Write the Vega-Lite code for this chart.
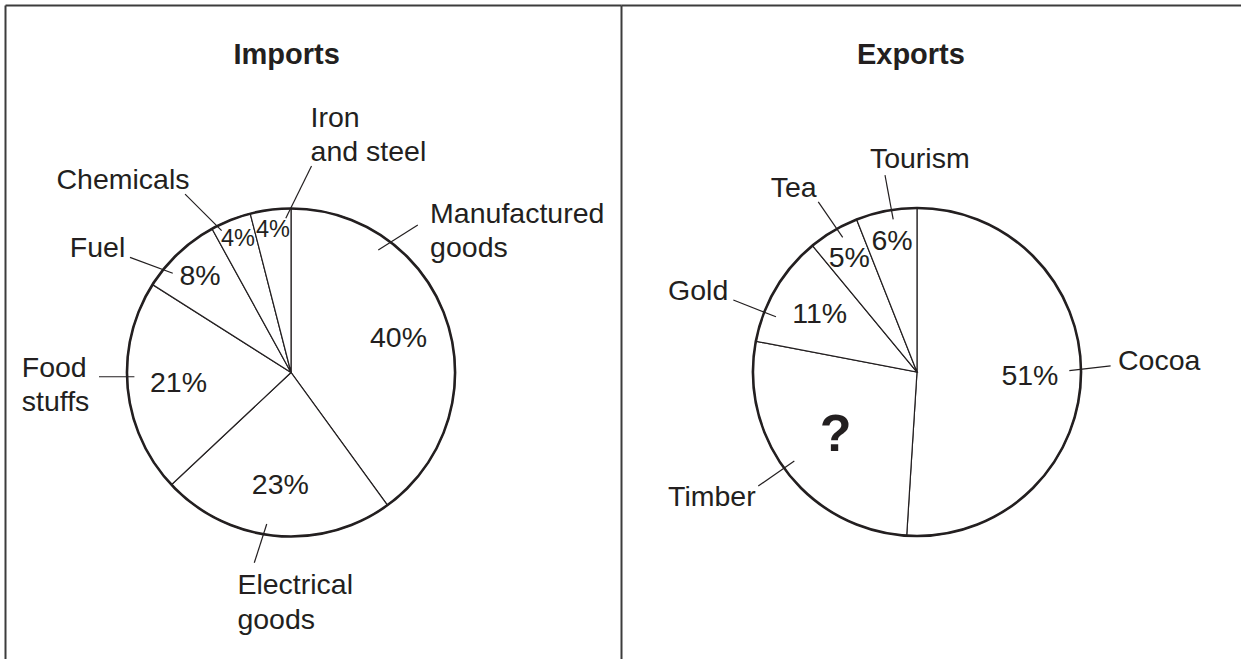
{
  "$schema": "https://vega.github.io/schema/vega-lite/v6.json",
  "padding": {"left": 5, "top": 5, "right": 0, "bottom": 0},
  "spacing": 0,
  "bounds": "flush",
  "background": "white",
  "config": {
    "view": {"stroke": null},
    "axis": {"domain": true, "domainColor": "#3c3c3c", "domainWidth": 2, "ticks": false, "labels": false, "grid": false},
    "text": {"font": "Liberation Sans", "color": "#231f20"}
  },
  "datasets": {
    "imports": [
      {"category": "Manufactured goods", "share": 0.40, "rank": 1},
      {"category": "Electrical goods", "share": 0.23, "rank": 2},
      {"category": "Food stuffs", "share": 0.21, "rank": 3},
      {"category": "Fuel", "share": 0.08, "rank": 4},
      {"category": "Chemicals", "share": 0.04, "rank": 5},
      {"category": "Iron and steel", "share": 0.04, "rank": 6}
    ],
    "exports": [
      {"category": "Cocoa", "share": 0.51, "rank": 1},
      {"category": "Timber", "share": 0.27, "rank": 2},
      {"category": "Gold", "share": 0.11, "rank": 3},
      {"category": "Tea", "share": 0.05, "rank": 4},
      {"category": "Tourism", "share": 0.06, "rank": 5}
    ],
    "importNotes": [
      {"category": "Manufactured goods", "lines": ["Manufactured", "goods"], "lx": 84.8, "ly": 91.3, "x1": 53.2, "y1": 74.7, "x2": 77.3, "y2": 89.9},
      {"category": "Electrical goods", "lines": ["Electrical", "goods"], "lx": -32.7, "ly": -135.1, "x1": -14.8, "y1": -92.4, "x2": -22.4, "y2": -116.0},
      {"category": "Food stuffs", "lines": ["Food", "stuffs"], "lx": -164.2, "ly": -2.6, "x1": -117.1, "y1": -2.6, "x2": -95.5, "y2": -2.6},
      {"category": "Fuel", "lines": ["Fuel"], "lx": -134.9, "ly": 70.6, "x1": -98.2, "y1": 70.2, "x2": -72.1, "y2": 60.5},
      {"category": "Chemicals", "lines": ["Chemicals"], "lx": -143.0, "ly": 111.9, "x1": -64.6, "y1": 108.8, "x2": -42.3, "y2": 86.5},
      {"category": "Iron and steel", "lines": ["Iron", "and steel"], "lx": 11.9, "ly": 149.9, "x1": 12.5, "y1": 125.9, "x2": -3.2, "y2": 94.0}
    ],
    "exportNotes": [
      {"category": "Cocoa", "lines": ["Cocoa"], "lx": 122.6, "ly": 1.0, "x1": 92.9, "y1": 0.8, "x2": 118.1, "y2": 3.7},
      {"category": "Timber", "lines": ["Timber"], "lx": -151.8, "ly": -81.7, "x1": -96.8, "y1": -69.5, "x2": -74.8, "y2": -54.3},
      {"category": "Gold", "lines": ["Gold"], "lx": -151.8, "ly": 43.9, "x1": -112.0, "y1": 43.9, "x2": -86.0, "y2": 33.7},
      {"category": "Tea", "lines": ["Tea"], "lx": -89.2, "ly": 106.5, "x1": -60.2, "y1": 103.8, "x2": -45.3, "y2": 82.1},
      {"category": "Tourism", "lines": ["Tourism"], "lx": -28.7, "ly": 124.2, "x1": -19.5, "y1": 120.1, "x2": -14.5, "y2": 93.1}
    ],
    "titles": [
      {"panel": "Imports", "tx": -2.7, "ty": 188.1},
      {"panel": "Exports", "tx": -3.7, "ty": 187.8}
    ]
  },
  "hconcat": [
    {
      "width": 616,
      "height": 654,
      "layer": [
        {
          "data": {"name": "imports"},
          "mark": {"type": "arc", "radius": 164, "fill": "white", "stroke": "#231f20", "strokeWidth": 1.2},
          "encoding": {
            "x": {"datum": 0, "type": "quantitative", "scale": {"domain": [-174.4, 201.2], "nice": false, "zero": false}, "axis": {"orient": "top", "title": null}},
            "y": {"datum": 0, "type": "quantitative", "scale": {"domain": [-174.7, 224.1], "nice": false, "zero": false}, "axis": {"orient": "left", "title": null}},
            "theta": {"field": "share", "type": "quantitative", "stack": true, "scale": {"domain": [0, 1]}},
            "order": {"field": "rank", "type": "quantitative"}
          }
        },
        {
          "data": {"name": "imports"},
          "mark": {"type": "arc", "radius": 164, "filled": false, "color": "#231f20", "strokeWidth": 2.6},
          "encoding": {
            "x": {"datum": 0, "type": "quantitative"},
            "y": {"datum": 0, "type": "quantitative"},
            "theta": {"aggregate": "sum", "field": "share", "type": "quantitative", "stack": true}
          }
        },
        {
          "data": {"name": "imports"},
          "mark": {"type": "text", "radius": 113, "fontSize": 28.5, "align": "center", "baseline": "middle"},
          "encoding": {
            "x": {"datum": 0, "type": "quantitative"},
            "y": {"datum": 0, "type": "quantitative"},
            "theta": {"field": "share", "type": "quantitative", "stack": true},
            "order": {"field": "rank", "type": "quantitative"},
            "text": {"condition": {"test": "datum.share >= 0.1", "field": "share", "type": "quantitative", "format": ".0%"}, "value": ""}
          }
        },
        {
          "data": {"name": "imports"},
          "mark": {"type": "text", "radius": 133, "fontSize": 28.5, "align": "center", "baseline": "middle"},
          "encoding": {
            "x": {"datum": 0, "type": "quantitative"},
            "y": {"datum": 0, "type": "quantitative"},
            "theta": {"field": "share", "type": "quantitative", "stack": true},
            "order": {"field": "rank", "type": "quantitative"},
            "text": {"condition": {"test": "datum.share >= 0.05 && datum.share < 0.1", "field": "share", "type": "quantitative", "format": ".0%"}, "value": ""}
          }
        },
        {
          "data": {"name": "imports"},
          "mark": {"type": "text", "radius": 144, "fontSize": 23.5, "align": "center", "baseline": "middle"},
          "encoding": {
            "x": {"datum": 0, "type": "quantitative"},
            "y": {"datum": 0, "type": "quantitative"},
            "theta": {"field": "share", "type": "quantitative", "stack": true},
            "order": {"field": "rank", "type": "quantitative"},
            "text": {"condition": {"test": "datum.share < 0.05", "field": "share", "type": "quantitative", "format": ".0%"}, "value": ""}
          }
        },
        {
          "data": {"name": "importNotes"},
          "mark": {"type": "rule", "color": "#231f20", "strokeWidth": 1.2},
          "encoding": {
            "x": {"field": "x1", "type": "quantitative"},
            "y": {"field": "y1", "type": "quantitative"},
            "x2": {"field": "x2"},
            "y2": {"field": "y2"}
          }
        },
        {
          "data": {"name": "importNotes"},
          "mark": {"type": "text", "fontSize": 28.5, "align": "left", "baseline": "alphabetic", "lineHeight": 34.5},
          "encoding": {
            "x": {"field": "lx", "type": "quantitative"},
            "y": {"field": "ly", "type": "quantitative"},
            "text": {"field": "lines"}
          }
        },
        {
          "data": {"name": "titles"},
          "transform": [{"filter": "datum.panel == 'Imports'"}],
          "mark": {"type": "text", "fontSize": 29, "fontWeight": "bold", "align": "center", "baseline": "alphabetic"},
          "encoding": {
            "x": {"field": "tx", "type": "quantitative"},
            "y": {"field": "ty", "type": "quantitative"},
            "text": {"field": "panel"}
          }
        }
      ]
    },
    {
      "width": 620,
      "height": 654,
      "layer": [
        {
          "data": {"name": "exports"},
          "mark": {"type": "arc", "radius": 164, "fill": "white", "stroke": "#231f20", "strokeWidth": 1.2},
          "encoding": {
            "x": {"datum": 0, "type": "quantitative", "scale": {"domain": [-180.5, 197.6], "nice": false, "zero": false}, "axis": {"orient": "top", "title": null}},
            "y": {"datum": 0, "type": "quantitative", "scale": {"domain": [-175.0, 223.8], "nice": false, "zero": false}, "axis": {"orient": "left", "title": null}},
            "theta": {"field": "share", "type": "quantitative", "stack": true, "scale": {"domain": [0, 1]}},
            "order": {"field": "rank", "type": "quantitative"}
          }
        },
        {
          "data": {"name": "exports"},
          "mark": {"type": "arc", "radius": 164, "filled": false, "color": "#231f20", "strokeWidth": 2.6},
          "encoding": {
            "x": {"datum": 0, "type": "quantitative"},
            "y": {"datum": 0, "type": "quantitative"},
            "theta": {"aggregate": "sum", "field": "share", "type": "quantitative", "stack": true}
          }
        },
        {
          "data": {"name": "exports"},
          "mark": {"type": "text", "radius": 113, "fontSize": 28.5, "align": "center", "baseline": "middle"},
          "encoding": {
            "x": {"datum": 0, "type": "quantitative"},
            "y": {"datum": 0, "type": "quantitative"},
            "theta": {"field": "share", "type": "quantitative", "stack": true},
            "order": {"field": "rank", "type": "quantitative"},
            "text": {"condition": {"test": "datum.share >= 0.1 && datum.category != 'Timber'", "field": "share", "type": "quantitative", "format": ".0%"}, "value": ""}
          }
        },
        {
          "data": {"name": "exports"},
          "mark": {"type": "text", "radius": 133, "fontSize": 28.5, "align": "center", "baseline": "middle"},
          "encoding": {
            "x": {"datum": 0, "type": "quantitative"},
            "y": {"datum": 0, "type": "quantitative"},
            "theta": {"field": "share", "type": "quantitative", "stack": true},
            "order": {"field": "rank", "type": "quantitative"},
            "text": {"condition": {"test": "datum.share >= 0.05 && datum.share < 0.1", "field": "share", "type": "quantitative", "format": ".0%"}, "value": ""}
          }
        },
        {
          "data": {"name": "exports"},
          "mark": {"type": "text", "radius": 103, "fontSize": 52, "fontWeight": "bold", "align": "center", "baseline": "middle"},
          "encoding": {
            "x": {"datum": 0, "type": "quantitative"},
            "y": {"datum": 0, "type": "quantitative"},
            "theta": {"field": "share", "type": "quantitative", "stack": true},
            "order": {"field": "rank", "type": "quantitative"},
            "text": {"condition": {"test": "datum.category == 'Timber'", "value": "?"}, "value": ""}
          }
        },
        {
          "data": {"name": "exportNotes"},
          "mark": {"type": "rule", "color": "#231f20", "strokeWidth": 1.2},
          "encoding": {
            "x": {"field": "x1", "type": "quantitative"},
            "y": {"field": "y1", "type": "quantitative"},
            "x2": {"field": "x2"},
            "y2": {"field": "y2"}
          }
        },
        {
          "data": {"name": "exportNotes"},
          "mark": {"type": "text", "fontSize": 28.5, "align": "left", "baseline": "alphabetic", "lineHeight": 34.5},
          "encoding": {
            "x": {"field": "lx", "type": "quantitative"},
            "y": {"field": "ly", "type": "quantitative"},
            "text": {"field": "lines"}
          }
        },
        {
          "data": {"name": "titles"},
          "transform": [{"filter": "datum.panel == 'Exports'"}],
          "mark": {"type": "text", "fontSize": 29, "fontWeight": "bold", "align": "center", "baseline": "alphabetic"},
          "encoding": {
            "x": {"field": "tx", "type": "quantitative"},
            "y": {"field": "ty", "type": "quantitative"},
            "text": {"field": "panel"}
          }
        }
      ]
    }
  ]
}
